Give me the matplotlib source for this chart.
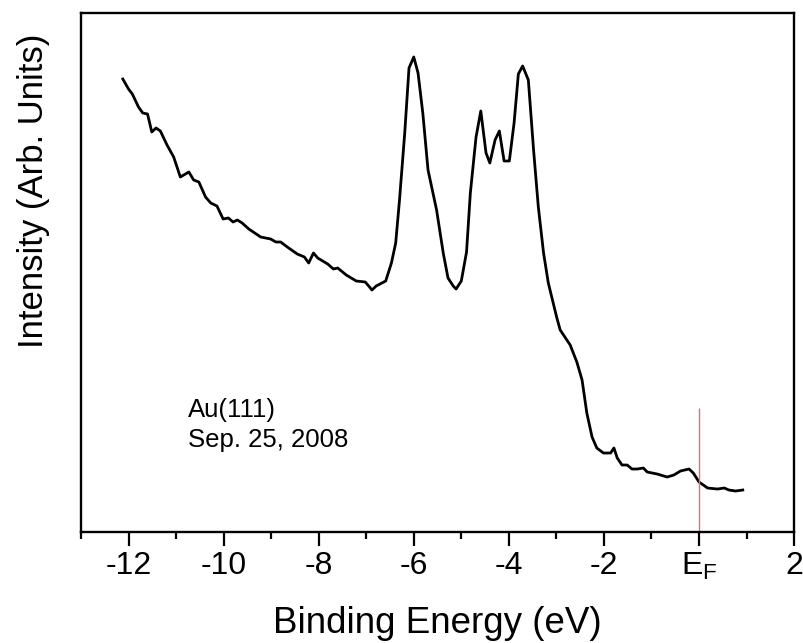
import matplotlib
matplotlib.use("Agg")
import matplotlib.pyplot as plt
from matplotlib.ticker import MultipleLocator

plt.rcParams['font.family'] = ['Liberation Sans', 'DejaVu Sans']
plt.rcParams['mathtext.fontset'] = 'custom'
plt.rcParams['mathtext.rm'] = 'Liberation Sans'

# binding energy (eV) and intensity (arb. units)
energy = [-12.12, -12.00, -11.92, -11.79, -11.70, -11.60, -11.51, -11.42, -11.33, -11.19,
          -11.05, -10.91, -10.73, -10.63, -10.52, -10.38, -10.27, -10.14, -10.01, -9.90,
          -9.80, -9.71, -9.61, -9.47, -9.22, -9.01, -8.90, -8.80, -8.66, -8.45,
          -8.30, -8.21, -8.11, -8.02, -7.81, -7.69, -7.60, -7.42, -7.21, -7.02,
          -6.93, -6.88, -6.79, -6.59, -6.47, -6.38, -6.30, -6.19, -6.10, -6.00,
          -5.91, -5.81, -5.70, -5.52, -5.38, -5.28, -5.17, -5.11, -5.00, -4.89,
          -4.81, -4.69, -4.59, -4.48, -4.40, -4.29, -4.20, -4.10, -3.99, -3.89,
          -3.80, -3.71, -3.59, -3.48, -3.38, -3.27, -3.17, -2.99, -2.92, -2.71,
          -2.57, -2.46, -2.36, -2.25, -2.15, -2.01, -1.86, -1.79, -1.72, -1.62,
          -1.51, -1.41, -1.30, -1.17, -1.09, -0.88, -0.67, -0.53, -0.39, -0.21,
          -0.12, 0.00, 0.18, 0.39, 0.53, 0.63, 0.77, 0.92]
intensity = [453, 443, 438, 425, 419, 418, 400, 404, 401, 387,
             375, 355, 360, 352, 350, 335, 329, 326, 313, 314,
             310, 312, 309, 303, 295, 293, 290, 290, 285, 278,
             275, 269, 279, 274, 268, 263, 264, 257, 251, 250,
             245, 242, 246, 251, 269, 289, 332, 399, 464, 475,
             459, 419, 362, 322, 279, 254, 246, 243, 251, 280,
             339, 395, 421, 379, 369, 392, 401, 371, 371, 409,
             458, 466, 452, 382, 325, 279, 249, 214, 202, 187,
             170, 152, 119, 95, 84, 79, 79, 84, 74, 67,
             67, 63, 63, 64, 60, 58, 55, 57, 61, 63,
             59, 50, 44, 43, 44, 42, 41, 42]

fermi_energy = 0.0
fermi_marker_top = 124
xticks = [-12, -10, -8, -6, -4, -2, 0, 2]
xtick_labels = ['-12', '-10', '-8', '-6', '-4', '-2', r'$\mathregular{E_F}$', '2']

fig = plt.figure(figsize=(8.04, 6.43), dpi=100)
ax = fig.add_axes([0.1007, 0.1726, 0.887, 0.8072])

ax.plot(energy, intensity, color='black', lw=2.0)
ax.vlines(fermi_energy, 0, fermi_marker_top, color='#d9707a', lw=1.0)

ax.text(-10.75, 115, 'Au(111)', fontsize=18.5, ha='left', va='baseline')
ax.text(-10.75, 85, 'Sep. 25, 2008', fontsize=18.5, ha='left', va='baseline')

ax.set_xlim(-13, 2)
ax.set_ylim(0, 519)
ax.set_xticks(xticks)
ax.set_xticklabels(xtick_labels)
ax.xaxis.set_minor_locator(MultipleLocator(1))
ax.set_yticks([])
ax.tick_params(axis='x', which='major', direction='out', length=10, width=1.6,
               labelsize=23, pad=3.5)
ax.tick_params(axis='x', which='minor', direction='out', length=5, width=1.6)
for s in ax.spines.values():
    s.set_linewidth(1.7)

ax.set_xlabel('Binding Energy (eV)', fontsize=26.5)
ax.xaxis.set_label_coords(0.5, -0.142)
ax.set_ylabel('Intensity (Arb. Units)', fontsize=25)
ax.yaxis.set_label_coords(-0.0435, 0.657)

fig.savefig('out.png', dpi=100)
